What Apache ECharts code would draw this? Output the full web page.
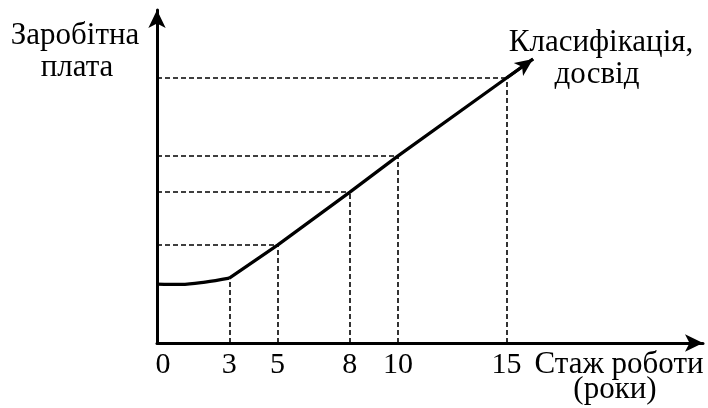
<!DOCTYPE html>
<html>
<head>
<meta charset="utf-8">
<script src="https://cdn.jsdelivr.net/npm/echarts@6/dist/echarts.min.js"></script>
<style>
  html, body { margin: 0; padding: 0; background: #fff; }
  #chart { width: 708px; height: 408px; }
</style>
</head>
<body>
<div id="chart"></div>
<script>
// позиції позначок на осі X та їх підписи (роки стажу)
const tickPos = [0, 3, 5, 8, 10, 14.5];
const tickLabels = ["0", "3", "5", "8", "10", "15"];

// початкова ділянка (0-3 роки) - плавна крива
const curveX = [0, 1, 2, 3];
const curveY = [17.7, 17.6, 18.3, 19.5];

// лінійне зростання після 3 років
const lineX = [3, 5, 8, 10, 14.5];
const lineY = [19.5, 29.4, 45.3, 56.2, 79.6];

// кінець стрілки
const arrowTip = [15.6, 85.3];

// пунктирні горизонталі тільки для 5, 8, 10, 15
const hGuideIdx = [1, 2, 3, 4];

const font = "Liberation Serif";
const black = "#000";

const guides = [];
lineX.forEach((x, i) => {
  guides.push([{ coord: [x, 0] }, { coord: [x, lineY[i]] }]);
});
hGuideIdx.forEach(i => {
  guides.push([{ coord: [0, lineY[i]] }, { coord: [lineX[i], lineY[i]] }]);
});

function txt(text, x, y) {
  return {
    type: "text", x: x, y: y,
    style: { text: text, font: "31px " + font, fill: black, textAlign: "center", textVerticalAlign: "middle" }
  };
}

const chart = echarts.init(document.getElementById("chart"));
chart.setOption({
  backgroundColor: "#fff",
  animation: false,
  grid: { left: 157, right: 5, top: 10, bottom: 65 },
  xAxis: {
    type: "value",
    min: 0,
    max: 22.65,
    splitLine: { show: false },
    axisTick: { show: false },
    axisLine: {
      lineStyle: { color: black, width: 3 },
      symbol: ["none", "arrow"],
      symbolSize: [13, 18]
    },
    axisLabel: {
      customValues: tickPos,
      formatter: v => {
        const s = tickLabels[tickPos.indexOf(v)];
        return v === 0 ? "{z|" + s + "}" : s;
      },
      color: black,
      fontFamily: font,
      fontSize: 30,
      margin: 7,
      rich: {
        z: { fontFamily: font, fontSize: 30, color: black, padding: [0, 0, 0, 12] }
      }
    }
  },
  yAxis: {
    type: "value",
    min: 0,
    max: 100,
    splitLine: { show: false },
    axisTick: { show: false },
    axisLabel: { show: false },
    axisLine: {
      lineStyle: { color: black, width: 3 },
      symbol: ["none", "arrow"],
      symbolSize: [13, 18]
    }
  },
  series: [
    {
      type: "line",
      data: curveX.map((x, i) => [x, curveY[i]]),
      smooth: 0.35,
      showSymbol: false,
      lineStyle: { color: black, width: 3.2 }
    },
    {
      type: "line",
      data: lineX.map((x, i) => [x, lineY[i]]).concat([arrowTip]),
      showSymbol: false,
      lineStyle: { color: black, width: 3.2 },
      markLine: {
        silent: true,
        symbol: ["none", "arrow"],
        symbolSize: [12, 18],
        label: { show: false },
        lineStyle: { color: black, width: 3.2, type: "solid" },
        data: [[{ coord: [lineX[4], lineY[4]] }, { coord: arrowTip }]]
      }
    },
    {
      type: "line",
      data: [],
      markLine: {
        silent: true,
        symbol: ["none", "none"],
        label: { show: false },
        lineStyle: { color: black, width: 1.6, type: [5, 3] },
        data: guides
      }
    }
  ],
  graphic: [
    txt("Заробітна", 75, 36),
    txt("плата", 77, 68),
    txt("Класифікація,", 601, 43),
    txt("досвід", 597, 75),
    txt("Стаж роботи", 619, 365),
    txt("(роки)", 615, 390)
  ]
});
</script>
</body>
</html>
